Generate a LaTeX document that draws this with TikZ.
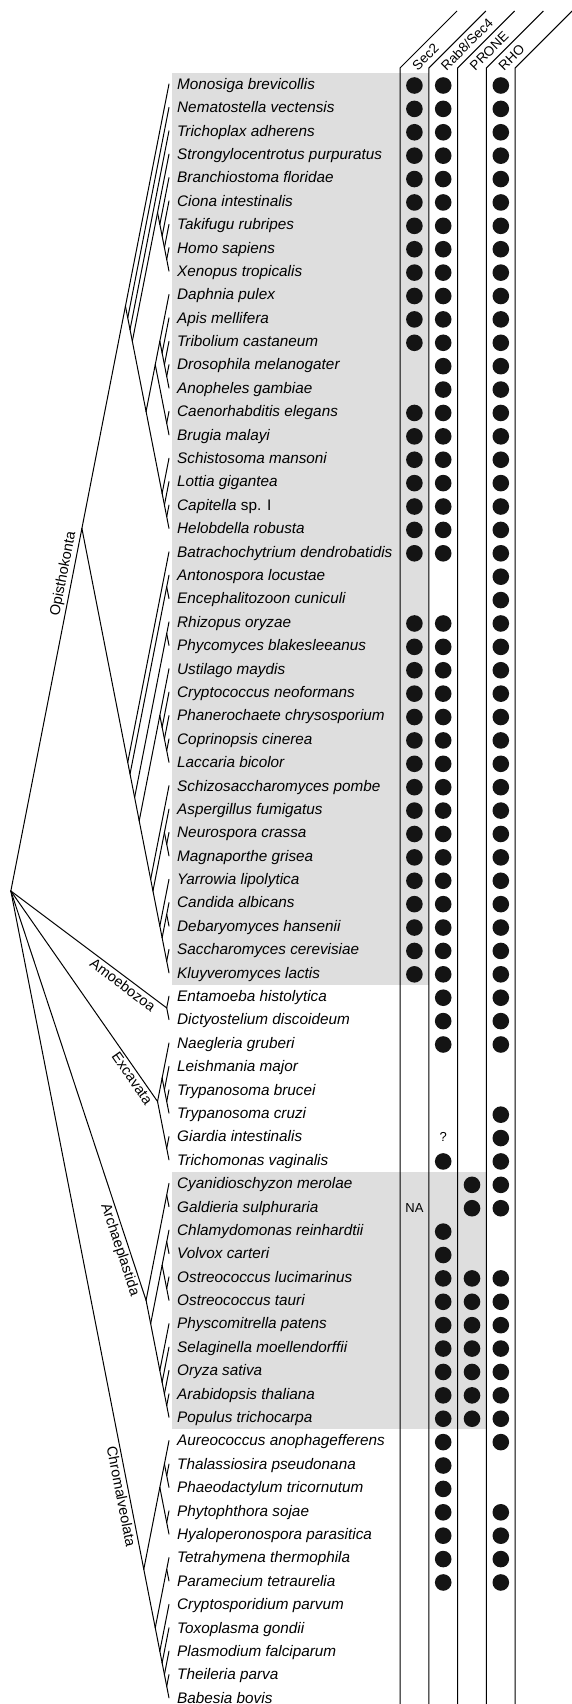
\documentclass[tikz,border=0pt]{standalone}
\usepackage{fontspec}
\setmainfont{Liberation Sans}
\usetikzlibrary{calc}

% slanted cladogram: a clade sits between its first and last leaf
\newcommand{\clade}[3]{\coordinate (#1) at ({169-0.196*(#3-#2)*23.39/2},{84+(#2+#3-2)*23.39/2});}
\newcommand{\rowy}[1]{84+(#1-1)*23.39}

\begin{document}
\begin{tikzpicture}[x=1pt,y=-1pt,
	branch/.style={line width=1pt,line cap=round},
	taxon/.style={anchor=base west,inner sep=0pt,font=\fontsize{15.3}{18}\selectfont\itshape},
	group/.style={sloped,inner sep=2pt,font=\fontsize{14.5}{17}\selectfont},
	gene/.style={anchor=base west,rotate=45,inner sep=0pt,font=\fontsize{13.5}{16}\selectfont},
	note/.style={inner sep=0pt,font=\fontsize{13}{15}\selectfont},
	shade/.style={fill=black!13},
	hit/.style={fill=black!92}]
\useasboundingbox (0,0) rectangle (571,1704);

% shaded blocks
\fill[shade] (172,73) rectangle (428.8,985);
\fill[shade] (172,1172) rectangle (486.4,1429);

% columns
\foreach \x in {400,428.8,457.6,486.4,515.2}
	\draw[line width=1pt] (\x,1704) -- (\x,68) -- ++(57,-57);
\foreach \x/\g [count=\j] in {400/Sec2,428.8/{Rab8/Sec4},457.6/PRONE,486.4/RHO}
	\node[gene] (g\j) at (\x+17.7,71.5) {\g};

% taxa
\foreach \t [count=\i] in {Monosiga brevicollis, Nematostella vectensis,
	Trichoplax adherens, Strongylocentrotus purpuratus, Branchiostoma floridae,
	Ciona intestinalis, Takifugu rubripes, Homo sapiens, Xenopus tropicalis,
	Daphnia pulex, Apis mellifera, Tribolium castaneum, Drosophila melanogater,
	Anopheles gambiae, Caenorhabditis elegans, Brugia malayi, Schistosoma mansoni,
	Lottia gigantea, {Capitella \textup{sp. I}}, Helobdella robusta,
	Batrachochytrium dendrobatidis, Antonospora locustae, Encephalitozoon cuniculi,
	Rhizopus oryzae, Phycomyces blakesleeanus, Ustilago maydis,
	Cryptococcus neoformans, Phanerochaete chrysosporium, Coprinopsis cinerea,
	Laccaria bicolor, Schizosaccharomyces pombe, Aspergillus fumigatus,
	Neurospora crassa, Magnaporthe grisea, Yarrowia lipolytica, Candida albicans,
	Debaryomyces hansenii, Saccharomyces cerevisiae, Kluyveromyces lactis,
	Entamoeba histolytica, Dictyostelium discoideum, Naegleria gruberi,
	Leishmania major, Trypanosoma brucei, Trypanosoma cruzi, Giardia intestinalis,
	Trichomonas vaginalis, Cyanidioschyzon merolae, Galdieria sulphuraria,
	Chlamydomonas reinhardtii, Volvox carteri, Ostreococcus lucimarinus,
	Ostreococcus tauri, Physcomitrella patens, Selaginella moellendorffii,
	Oryza sativa, Arabidopsis thaliana, Populus trichocarpa,
	Aureococcus anophagefferens, Thalassiosira pseudonana, Phaeodactylum tricornutum,
	Phytophthora sojae, Hyaloperonospora parasitica, Tetrahymena thermophila,
	Paramecium tetraurelia, Cryptosporidium parvum, Toxoplasma gondii,
	Plasmodium falciparum, Theileria parva, Babesia bovis}{
	\coordinate (l\i) at (169,{\rowy{\i}});
	\node[taxon] (t\i) at (177,{\rowy{\i}+5.3}) {\t};
}

% presence of Sec2, Rab8/Sec4, PRONE, RHO (runs of rows)
\foreach \a/\b in {1/12,15/21,24/39}
	\foreach \r in {\a,...,\b} \fill[hit] (414.4,{\rowy{\r}+1.5}) circle (8.3);
\foreach \a/\b in {1/21,24/42,47/47,50/65}
	\foreach \r in {\a,...,\b} \fill[hit] (443.2,{\rowy{\r}+1.5}) circle (8.3);
\foreach \a/\b in {48/49,52/58}
	\foreach \r in {\a,...,\b} \fill[hit] (472,{\rowy{\r}+1.5}) circle (8.3);
\foreach \a/\b in {1/42,45/49,52/59,62/65}
	\foreach \r in {\a,...,\b} \fill[hit] (500.8,{\rowy{\r}+1.5}) circle (8.3);
\node[note] (na) at (414.4,{\rowy{49}+1.5}) {NA};
\node[note] (unk) at (443.2,{\rowy{46}}) {?};

% tree
\clade{root}{1}{70}
\clade{opi}{1}{39}   \clade{hol}{1}{20}   \clade{met}{2}{20}   \clade{eum}{3}{20}
\clade{bil}{4}{20}   \clade{deu}{4}{9}    \clade{deu5}{5}{9}   \clade{deu6}{6}{9}
\clade{deu7}{7}{9}   \clade{deu8}{8}{9}   \clade{pro}{10}{20}  \clade{ecd}{10}{16}
\clade{art}{10}{14}  \clade{ins}{11}{14}  \clade{ins12}{12}{14} \clade{ins13}{13}{14}
\clade{nem}{15}{16}  \clade{lop}{17}{20}  \clade{lop18}{18}{20} \clade{lop19}{19}{20}
\clade{fun}{21}{39}  \clade{fun22}{22}{39} \clade{mic}{22}{23} \clade{fun24}{24}{39}
\clade{muc}{24}{25}  \clade{dik}{26}{39}  \clade{bas}{26}{30}  \clade{bas27}{27}{30}
\clade{bas28}{28}{30} \clade{bas29}{29}{30} \clade{asc}{31}{39} \clade{asc32}{32}{39}
\clade{pez}{32}{34}  \clade{pez33}{33}{34} \clade{sac}{35}{39} \clade{sac36}{36}{39}
\clade{cde}{36}{37}  \clade{skl}{38}{39}
\clade{amo}{40}{41}
\clade{exc}{42}{47}  \clade{dis}{42}{45}  \clade{kin}{43}{45}  \clade{try}{44}{45}
\clade{mtm}{46}{47}
\clade{arc}{48}{58}  \clade{rho}{48}{49}  \clade{vir}{50}{58}  \clade{chl}{50}{53}
\clade{vol}{50}{51}  \clade{ost}{52}{53}  \clade{emb}{54}{58}  \clade{emb55}{55}{58}
\clade{emb56}{56}{58} \clade{emb57}{57}{58}
\clade{chr}{59}{70}  \clade{stra}{59}{63} \clade{stra59}{59}{61} \clade{dia}{60}{61}
\clade{oom}{62}{63}  \clade{alv}{64}{70}  \clade{cil}{64}{65}  \clade{api}{66}{70}
\clade{api67}{67}{70} \clade{api68}{68}{70} \clade{api69}{69}{70}

\foreach \a/\b in {opi/hol, opi/fun,
	hol/l1, hol/met, met/l2, met/eum, eum/l3, eum/bil, bil/deu, bil/pro,
	deu/l4, deu/deu5, deu5/l5, deu5/deu6, deu6/l6, deu6/deu7, deu7/l7, deu7/deu8,
	deu8/l8, deu8/l9,
	pro/ecd, pro/lop, ecd/art, ecd/nem, art/l10, art/ins, ins/l11, ins/ins12,
	ins12/l12, ins12/ins13, ins13/l13, ins13/l14, nem/l15, nem/l16,
	lop/l17, lop/lop18, lop18/l18, lop18/lop19, lop19/l19, lop19/l20,
	fun/l21, fun/fun22, fun22/mic, fun22/fun24, mic/l22, mic/l23,
	fun24/muc, fun24/dik, muc/l24, muc/l25,
	dik/bas, dik/asc, bas/l26, bas/bas27, bas27/l27, bas27/bas28, bas28/l28,
	bas28/bas29, bas29/l29, bas29/l30,
	asc/l31, asc/asc32, asc32/pez, asc32/sac, pez/l32, pez/pez33, pez33/l33, pez33/l34,
	sac/l35, sac/sac36, sac36/cde, sac36/skl, cde/l36, cde/l37, skl/l38, skl/l39,
	amo/l40, amo/l41,
	exc/dis, exc/mtm, dis/l42, dis/kin, kin/l43, kin/try, try/l44, try/l45,
	mtm/l46, mtm/l47,
	arc/rho, arc/vir, rho/l48, rho/l49, vir/chl, vir/emb, chl/vol, chl/ost,
	vol/l50, vol/l51, ost/l52, ost/l53,
	emb/l54, emb/emb55, emb55/l55, emb55/emb56, emb56/l56, emb56/emb57,
	emb57/l57, emb57/l58,
	chr/stra, chr/alv, stra/stra59, stra/oom, stra59/l59, stra59/dia,
	dia/l60, dia/l61, oom/l62, oom/l63,
	alv/cil, alv/api, cil/l64, cil/l65, api/l66, api/api67, api67/l67,
	api67/api68, api68/l68, api68/api69, api69/l69, api69/l70}
	\draw[branch] (\a) -- (\b);

\draw[branch] (root) -- node[group,above,pos=.87] (nopi) {Opisthokonta} (opi);
\draw[branch] (root) -- node[group,below,pos=.75] (namo) {Amoebozoa} (amo);
\draw[branch] (root) -- node[group,below,pos=.87] (nexc) {Excavata} (exc);
\draw[branch] (root) -- node[group,below,pos=.87] (narc) {Archaeplastida} (arc);
\draw[branch] (root) -- node[group,below,pos=.89] (nchr) {Chromalveolata} (chr);
\end{tikzpicture}
\end{document}
